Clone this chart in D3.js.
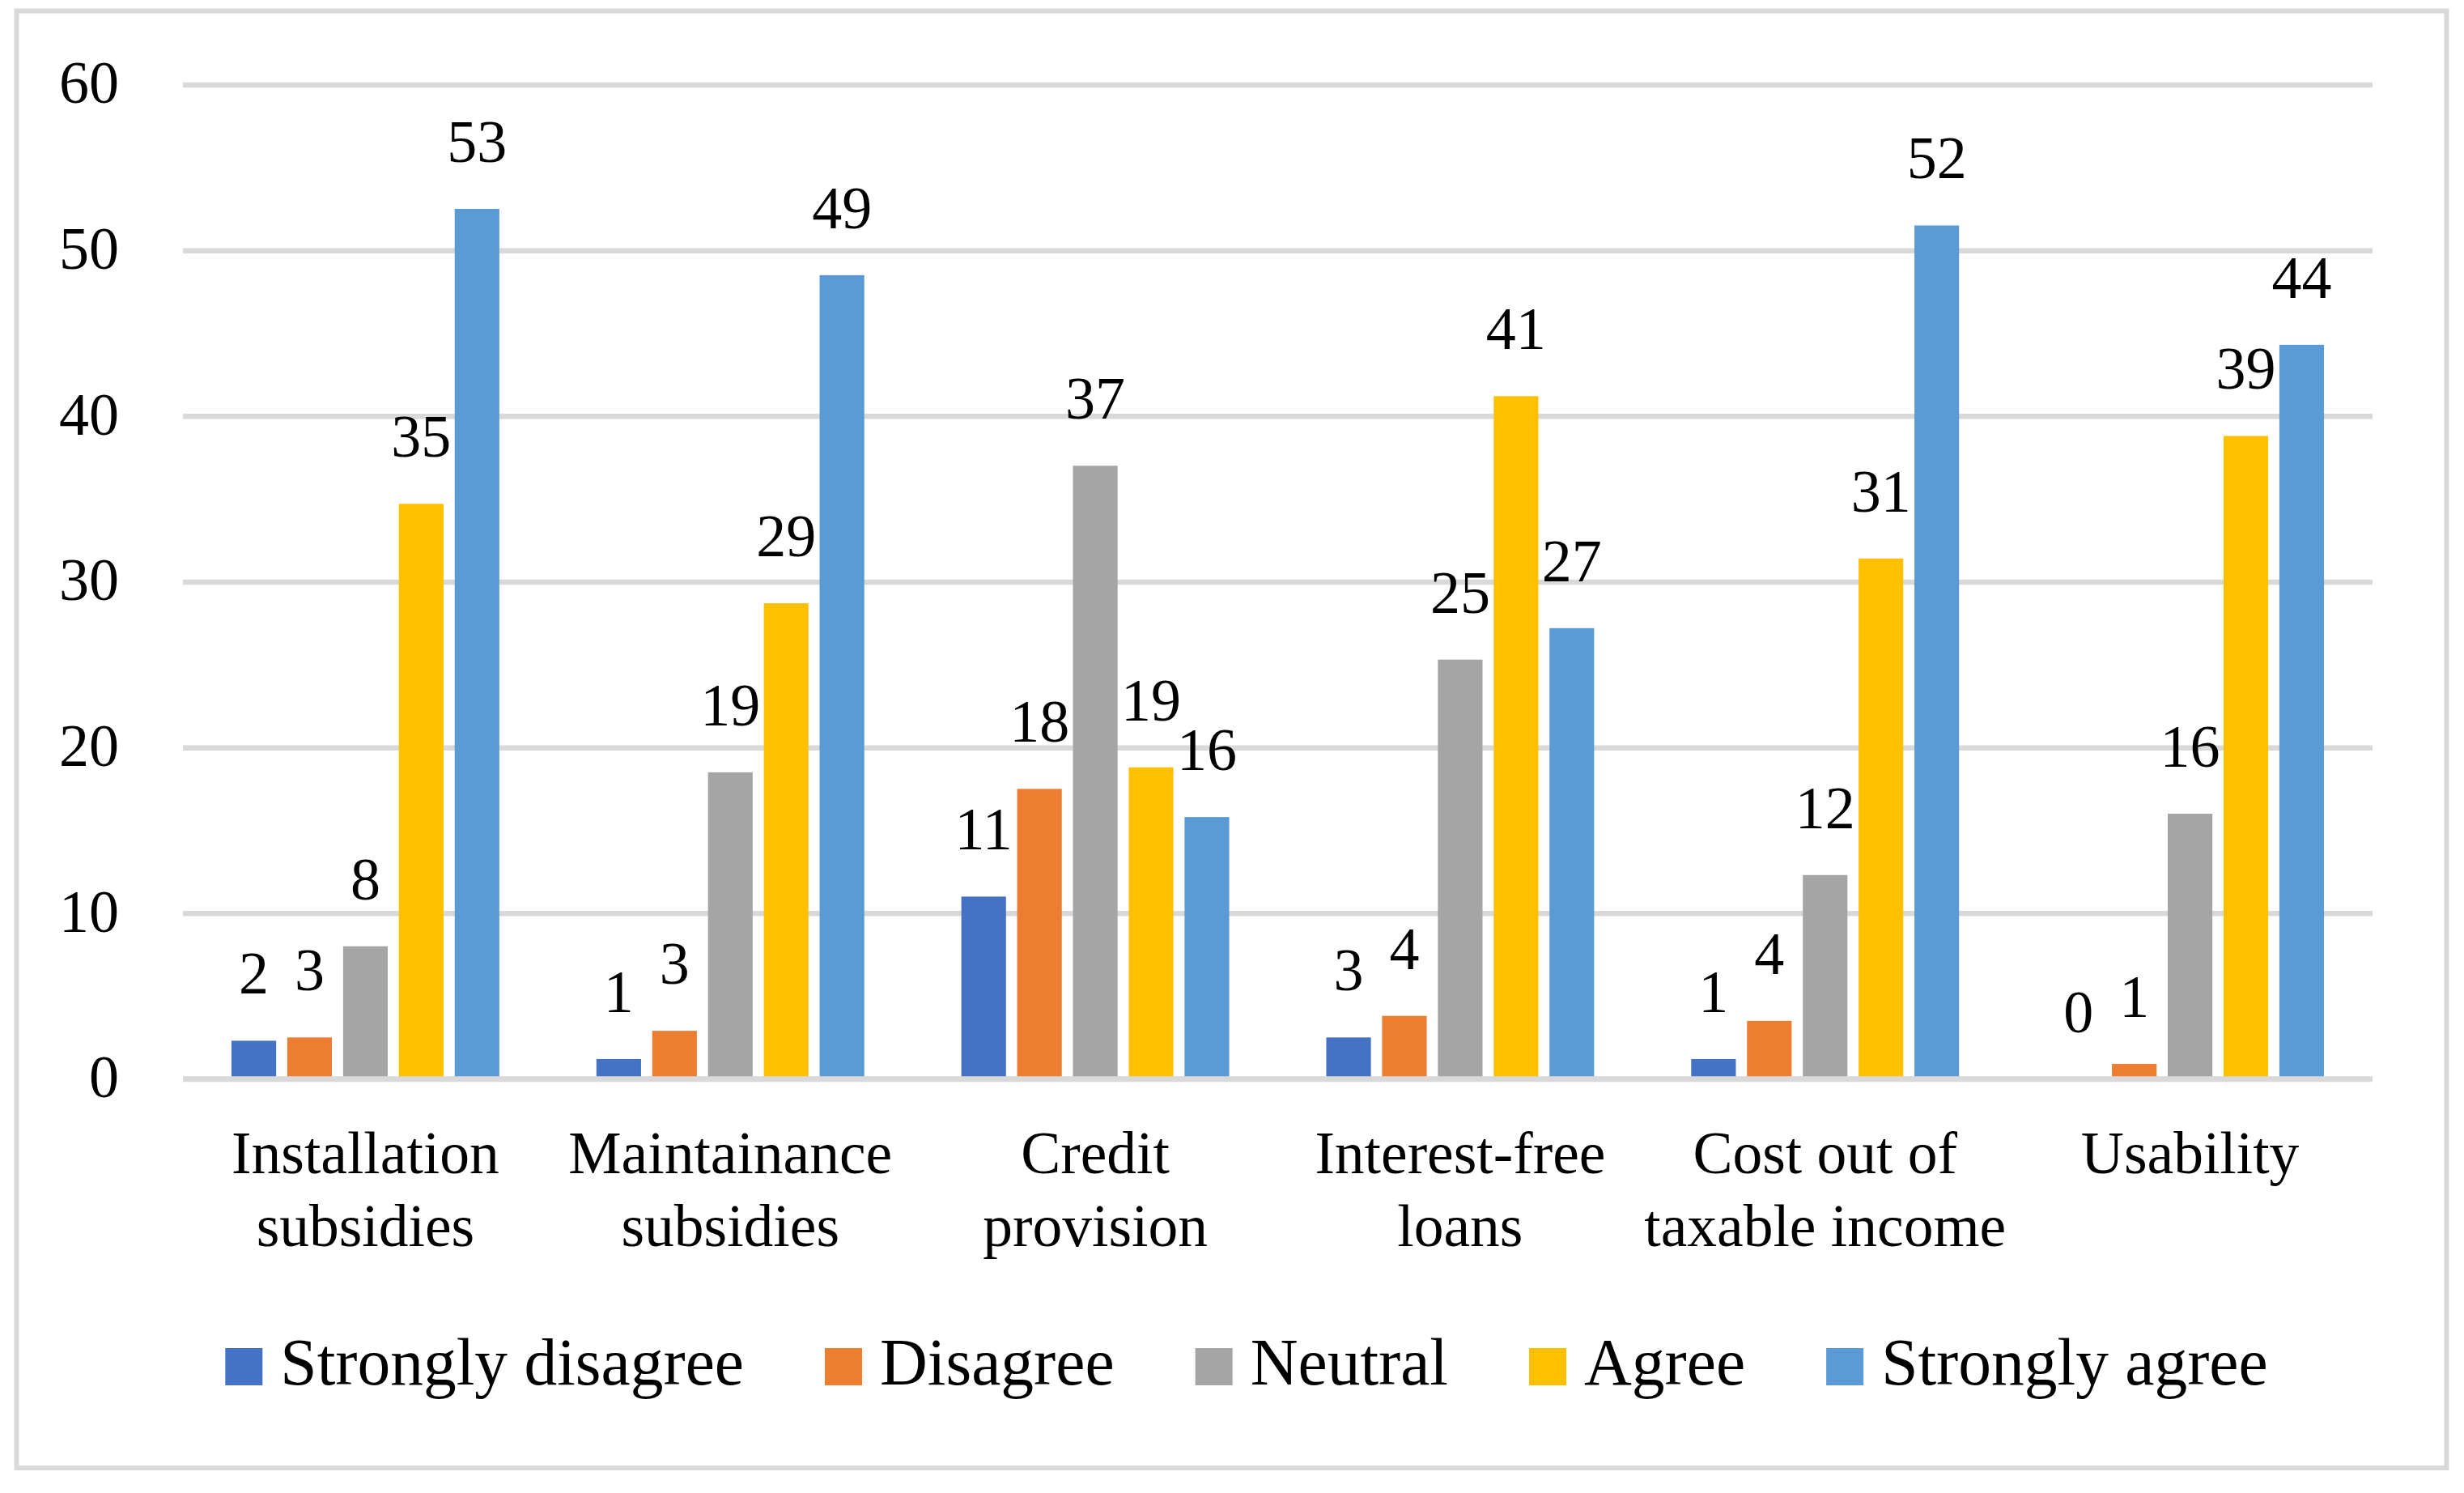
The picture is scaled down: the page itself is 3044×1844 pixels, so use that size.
<!DOCTYPE html>
<html>
<head>
<meta charset="utf-8">
<script src="https://cdn.jsdelivr.net/npm/d3@7"></script>
<style>
  html, body { margin: 0; padding: 0; background: #ffffff; }
  svg { display: block; }
  text { font-family: "Liberation Serif", "Times New Roman", serif; fill: #000; }
</style>
</head>
<body>
<svg id="chart" width="3044" height="1844"></svg>
<script>
// ---- data ----
const categories = [
  ["Installation", "subsidies"],
  ["Maintainance", "subsidies"],
  ["Credit", "provision"],
  ["Interest-free", "loans"],
  ["Cost out of", "taxable income"],
  ["Usability"]
];
const seriesNames = ["Strongly disagree", "Disagree", "Neutral", "Agree", "Strongly agree"];
const seriesColors = ["#4472c4", "#ed7d31", "#a5a5a5", "#ffc000", "#5b9bd5"];
const stronglyDisagree = [2.3, 1.2, 11.0, 2.5, 1.2, 0];
const disagree         = [2.5, 2.9, 17.5, 3.8, 3.5, 0.9];
const neutral          = [8.0, 18.5, 37.0, 25.3, 12.3, 16.0];
const agree            = [34.7, 28.7, 18.8, 41.2, 31.4, 38.8];
const stronglyAgree    = [52.5, 48.5, 15.8, 27.2, 51.5, 44.3];
const yTicks = [0, 10, 20, 30, 40, 50, 60];

const seriesValues = [stronglyDisagree, disagree, neutral, agree, stronglyAgree];

// ---- layout ----
const svg = d3.select("#chart");
const W = 3044, H = 1844;
const plot = { left: 226, right: 2931, top: 104.5, bottom: 1332.5 };
const gridColor = "#d9d9d9";

svg.append("rect").attr("width", W).attr("height", H).attr("fill", "#fff");
// outer border
svg.append("rect")
  .attr("x", 20.5).attr("y", 13.5)
  .attr("width", 3022.5 - 20.5).attr("height", 1813 - 13.5)
  .attr("fill", "none").attr("stroke", gridColor).attr("stroke-width", 6);

const catIdx = categories.map((c, i) => i);
const x0 = d3.scaleBand().domain(catIdx).range([plot.left, plot.right]).paddingInner(0).paddingOuter(0);
const groupInner = x0.bandwidth() * 0.734;
const x1 = d3.scaleBand().domain(d3.range(seriesNames.length))
  .range([(x0.bandwidth() - groupInner) / 2, (x0.bandwidth() + groupInner) / 2])
  .paddingInner(0.2).paddingOuter(0);
const y = d3.scaleLinear().domain([0, 60]).range([plot.bottom, plot.top]);

// y axis with gridlines
const yAxis = d3.axisLeft(y).tickValues(yTicks).tickFormat(d3.format("d"))
  .tickSize(-(plot.right - plot.left)).tickPadding(79);
const gy = svg.append("g").attr("transform", `translate(${plot.left},0)`).call(yAxis);
gy.select(".domain").remove();
gy.selectAll(".tick line").attr("stroke", gridColor).attr("stroke-width", 6.5);
gy.selectAll(".tick text")
  .attr("font-family", "Liberation Serif, serif")
  .attr("font-size", 74).attr("fill", "#000").attr("dy", "0.30em");

// bars
const rows = [];
categories.forEach((c, ci) => {
  seriesValues.forEach((vals, si) => rows.push({ ci, si, v: vals[ci] }));
});
const gBars = svg.append("g");
gBars.selectAll("rect").data(rows).join("rect")
  .attr("x", d => x0(d.ci) + x1(d.si))
  .attr("width", x1.bandwidth())
  .attr("y", d => y(d.v))
  .attr("height", d => y(0) - y(d.v))
  .attr("fill", d => seriesColors[d.si]);

// baseline redrawn over bars
svg.append("line")
  .attr("x1", plot.left).attr("x2", plot.right)
  .attr("y1", y(0)).attr("y2", y(0))
  .attr("stroke", gridColor).attr("stroke-width", 6.5);

// data labels
svg.append("g").selectAll("text").data(rows).join("text")
  .attr("x", d => x0(d.ci) + x1(d.si) + x1.bandwidth() / 2)
  .attr("y", d => y(d.v) - 58)
  .attr("text-anchor", "middle")
  .attr("font-size", 74)
  .text(d => Math.round(d.v));

// category labels
const gCat = svg.append("g");
categories.forEach((lines, ci) => {
  const t = gCat.append("text")
    .attr("x", x0(ci) + x0.bandwidth() / 2)
    .attr("y", 1449)
    .attr("text-anchor", "middle")
    .attr("font-size", 73.5);
  lines.forEach((ln, li) => {
    t.append("tspan").attr("x", x0(ci) + x0.bandwidth() / 2)
      .attr("dy", li === 0 ? 0 : 90).text(ln);
  });
});

// legend
const legend = svg.append("g");
const swatch = 46, swGap = 22, itemGap = 100, legendFont = 81.5;
const items = seriesNames.map((name, i) => {
  const g = legend.append("g");
  g.append("rect").attr("width", swatch).attr("height", swatch)
    .attr("y", 1665).attr("fill", seriesColors[i]);
  const t = g.append("text").attr("x", swatch + swGap).attr("y", 1710)
    .attr("font-size", legendFont).text(name);
  return { g, w: swatch + swGap + t.node().getComputedTextLength() };
});
const totalW = d3.sum(items, d => d.w) + itemGap * (items.length - 1);
let lx = 1540 - totalW / 2;
items.forEach(it => {
  it.g.attr("transform", `translate(${lx},0)`);
  lx += it.w + itemGap;
});
</script>
</body>
</html>
